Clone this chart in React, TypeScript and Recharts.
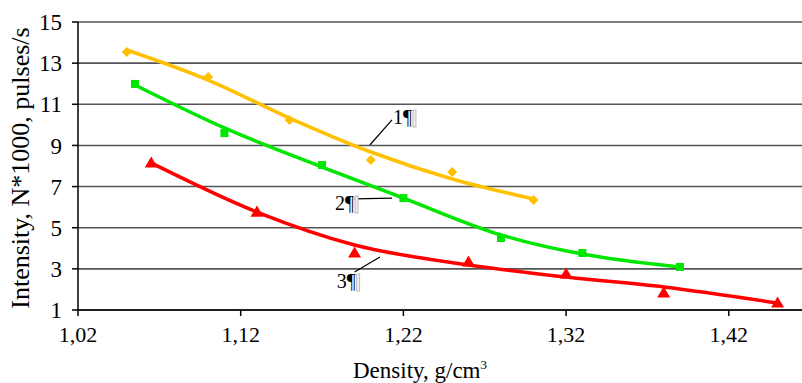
import React from 'react';
import {
  ComposedChart, Line, Scatter, XAxis, YAxis, CartesianGrid, ReferenceLine, ReferenceDot,
} from 'recharts';

// ---- data ----
const xTicks = [1.02, 1.12, 1.22, 1.32, 1.42];
const yTicks = [1, 3, 5, 7, 9, 11, 13, 15];

// series 1 (yellow, diamonds)
const s1X = [1.05, 1.10, 1.15, 1.20, 1.25, 1.30];
const s1Y = [13.54, 12.33, 10.24, 8.29, 7.71, 6.35];
const s1Trend = [13.64, 12.18, 10.33, 8.68, 7.37, 6.40];

// series 2 (green, squares)
const s2X = [1.055, 1.11, 1.17, 1.22, 1.28, 1.33, 1.39];
const s2Y = [11.99, 9.6, 8.05, 6.44, 4.5, 3.77, 3.09];
const s2Trend = [11.94, 9.85, 7.95, 6.44, 4.65, 3.72, 3.09];

// series 3 (red, triangles)
const s3X = [1.065, 1.13, 1.19, 1.26, 1.32, 1.38, 1.45];
const s3Y = [8.15, 5.76, 3.77, 3.33, 2.75, 1.83, 1.34];
const s3Trend = [8.15, 5.76, 4.16, 3.19, 2.6, 2.12, 1.34];

// annotation labels
const labels = ['1', '2', '3'];
const labelPos = [
  { d: 1.2136, v: 10.04 },
  { d: 1.178, v: 5.86 },
  { d: 1.179, v: 2.07 },
];
const leaders = [
  [{ x: 1.1994, y: 9.02 }, { x: 1.213, y: 10.24 }],
  [{ x: 1.190, y: 6.40 }, { x: 1.213, y: 6.44 }],
  [{ x: 1.190, y: 2.85 }, { x: 1.2056, y: 3.58 }],
];

const zip = (xs: number[], ys: number[]) => xs.map((d, i) => ({ d, v: ys[i] }));

const YELLOW = '#FFC000';
const GREEN = '#00E600';
const RED = '#FF0000';
const FONT = '"Liberation Serif", "Times New Roman", serif';

const Diamond = (p: any) => {
  const { cx, cy } = p;
  const r = 5;
  return <polygon points={`${cx},${cy - r} ${cx + r},${cy} ${cx},${cy + r} ${cx - r},${cy}`} fill={YELLOW} />;
};
const Square = (p: any) => {
  const { cx, cy } = p;
  const s = 8;
  return <rect x={cx - s / 2} y={cy - s / 2} width={s} height={s} fill={GREEN} />;
};
const Triangle = (p: any) => {
  const { cx, cy } = p;
  const r = 6.5;
  return <polygon points={`${cx},${cy - r} ${cx + r},${cy + r * 0.7} ${cx - r},${cy + r * 0.7}`} fill={RED} />;
};

const AnnLabel = (text: string) => (props: any) => {
  const { viewBox } = props;
  const x = viewBox?.x ?? viewBox?.cx ?? 0;
  const y = viewBox?.y ?? viewBox?.cy ?? 0;
  return (
    <g>
      <text x={x} y={y} fontFamily={FONT} fontSize={20} fill="#000">
        {text}¶
      </text>
      <rect x={x + 20} y={y - 14} width={3} height={17} fill="#eeeeee" stroke="#b0b0b0" strokeWidth={0.8} />
    </g>
  );
};

export default function App() {
  const t1 = zip(s1X, s1Trend);
  const t2 = zip(s2X, s2Trend);
  const t3 = zip(s3X, s3Trend);
  const p1 = zip(s1X, s1Y);
  const p2 = zip(s2X, s2Y);
  const p3 = zip(s3X, s3Y);
  const fmt = (v: number) => v.toFixed(2).replace('.', ',');

  return (
    <div style={{ position: 'absolute', left: 0, top: 0, background: '#fff' }}>
      <ComposedChart width={802} height={383} margin={{ top: 22, right: 0, left: 0, bottom: 0 }}>
        <CartesianGrid horizontal vertical={false} stroke="#555" strokeWidth={1.6} />
        <XAxis
          type="number"
          dataKey="d"
          domain={[1.02, 1.465]}
          ticks={xTicks}
          tickFormatter={fmt}
          height={73}
          stroke="#000"
          strokeWidth={1.5}
          tickSize={6}
          tickMargin={10}
          tick={{ fill: '#000', fontFamily: FONT, fontSize: 22 }}
          allowDataOverflow
          label={(props: any) => (
            <text x={420} y={378} textAnchor="middle" fontFamily={FONT} fontSize={23} fill="#000">
              Density, g/cm<tspan fontSize={13} dy={-9}>3</tspan>
            </text>
          )}
        />
        <YAxis
          type="number"
          domain={[1, 15]}
          ticks={yTicks}
          width={78}
          stroke="#000"
          strokeWidth={1.5}
          tickSize={6}
          tickMargin={10}
          tick={{ fill: '#000', fontFamily: FONT, fontSize: 23 }}
          label={(props: any) => (
            <text
              x={29}
              y={168}
              textAnchor="middle"
              transform="rotate(-90 29 168)"
              fontFamily={FONT}
              fontSize={26}
              fill="#000"
            >
              Intensity, N*1000, pulses/s
            </text>
          )}
        />
        <Line data={t1} dataKey="v" type="monotone" stroke={YELLOW} strokeWidth={3.5} dot={false} isAnimationActive={false} />
        <Line data={t2} dataKey="v" type="monotone" stroke={GREEN} strokeWidth={3.5} dot={false} isAnimationActive={false} />
        <Line data={t3} dataKey="v" type="monotone" stroke={RED} strokeWidth={3.5} dot={false} isAnimationActive={false} />
        <Scatter data={p1} dataKey="v" shape={Diamond} isAnimationActive={false} />
        <Scatter data={p2} dataKey="v" shape={Square} isAnimationActive={false} />
        <Scatter data={p3} dataKey="v" shape={Triangle} isAnimationActive={false} />
        {leaders.map((seg, i) => (
          <ReferenceLine key={'l' + i} segment={seg} stroke="#000" strokeWidth={1.2} />
        ))}
        {labelPos.map((p, i) => (
          <ReferenceDot key={'a' + i} x={p.d} y={p.v} r={0} fill="none" stroke="none" label={AnnLabel(labels[i])} />
        ))}
      </ComposedChart>
    </div>
  );
}
